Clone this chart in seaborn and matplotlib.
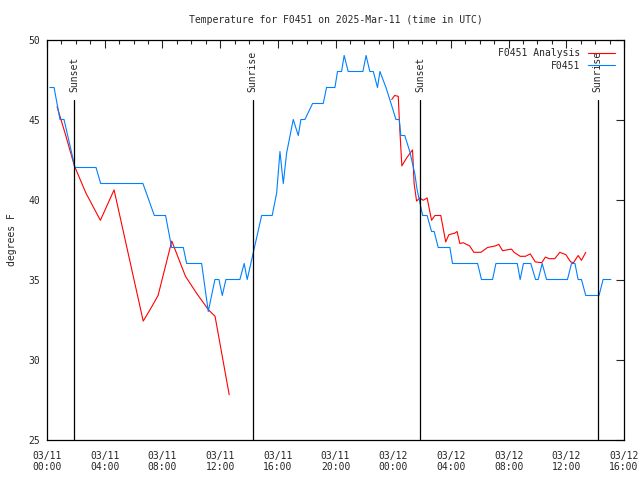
import matplotlib
matplotlib.use('Agg')
import matplotlib.pyplot as plt
import matplotlib.dates as mdates
import pandas as pd
import seaborn as sns

# hours after 2025-03-11 00:00 UTC
obs_hours = [0.2, 0.49, 0.9, 1.18, 1.94, 3.4, 3.72, 6.65, 7.44, 8.22, 8.64, 9.45, 9.68, 10.72,
             11.18, 11.64, 11.92, 12.15, 12.4, 13.37, 13.67, 13.88, 14.88, 15.61, 15.92, 16.15,
             16.38, 16.61, 17.07, 17.42, 17.6, 17.88, 18.41, 19.15, 19.38, 19.96, 20.14, 20.42,
             20.6, 20.88, 21.9, 22.12, 22.38, 22.62, 22.91, 23.08, 23.5, 23.85, 24.19, 24.42,
             24.53, 24.8, 25.15, 25.5, 25.66, 26.04, 26.35, 26.66, 26.84, 27.12, 27.93, 28.11,
             29.85, 30.12, 30.89, 31.12, 32.6, 32.8, 33.03, 33.54, 33.87, 34.05, 34.33, 34.63,
             36.08, 36.36, 36.6, 36.82, 37.05, 37.35, 38.27, 38.55, 39.09]
obs_temp = [47, 47, 45, 45, 42, 42, 41, 41, 39, 39, 37, 37, 36, 36,
            33, 35, 35, 34, 35, 35, 36, 35, 39, 39, 40.4, 43,
            41, 42.9, 45, 44, 45, 45, 46, 46, 47, 47, 48, 48,
            49, 48, 48, 49, 48, 48, 47, 48, 47, 46, 45, 45,
            44, 44, 43, 41.6, 40.6, 39, 39, 38, 38, 37, 37, 36,
            36, 35, 35, 36, 36, 35, 36, 36, 35, 35, 36, 35,
            35, 36, 36, 35, 35, 34, 34, 35, 35]

ana_hours_1 = [0.7, 1.3, 1.9, 2.7, 3.7, 4.65, 6.67, 7.2, 7.7, 8.65, 9.6, 10.4, 11.2, 11.65, 12.63]
ana_temp_1 = [45.8, 44.0, 42.1, 40.4, 38.7, 40.6, 32.4, 33.2, 34.0, 37.4, 35.2, 34.1, 33.1, 32.7, 27.8]
ana_hours_2 = [23.9, 24.1, 24.35, 24.45, 24.6, 24.93, 25.34, 25.45, 25.62, 25.85, 26.08, 26.35,
               26.66, 26.89, 27.3, 27.64, 27.86, 28.27, 28.43, 28.62, 28.85, 29.3, 29.59, 30.08,
               30.54, 31.09, 31.32, 31.58, 32.2, 32.38, 32.8, 33.17, 33.5, 33.85, 34.3, 34.55,
               34.82, 35.2, 35.55, 35.97, 36.3, 36.5, 36.82, 37.05, 37.35]
ana_temp_2 = [46.25, 46.5, 46.45, 44.5, 42.1, 42.6, 43.1, 41.0, 39.9, 40.1, 39.95, 40.1,
              38.7, 39.0, 39.0, 37.35, 37.8, 37.9, 38.0, 37.25, 37.3, 37.1, 36.7, 36.7,
              37.0, 37.1, 37.2, 36.8, 36.9, 36.7, 36.45, 36.45, 36.6, 36.1, 36.05, 36.4,
              36.3, 36.3, 36.7, 36.55, 36.1, 36.05, 36.5, 36.2, 36.7]

sun_hours = [1.9, 14.27, 25.85, 38.18]
sun_labels = ['Sunset', 'Sunrise', 'Sunset', 'Sunrise']

start = pd.Timestamp('2025-03-11 00:00')


def to_time(hours):
    return start + pd.to_timedelta(hours, unit='h')


obs = pd.DataFrame({'time': to_time(obs_hours), 'temp': obs_temp})
ana = pd.concat([
    pd.DataFrame({'time': to_time(ana_hours_1), 'temp': ana_temp_1, 'seg': 1}),
    pd.DataFrame({'time': to_time(ana_hours_2), 'temp': ana_temp_2, 'seg': 2}),
])

sns.set_style('white')
plt.rcParams['font.family'] = ['DejaVu Sans Mono']
plt.rcParams['font.size'] = 7

fig = plt.figure(figsize=(6.4, 4.8), dpi=100)
ax = fig.add_axes([47 / 640, 1 - 439.5 / 480, 577 / 640, 400 / 480])

sns.lineplot(data=ana, x='time', y='temp', units='seg', estimator=None, color='#ff0000',
             linewidth=0.8, ax=ax, label='F0451 Analysis')
sns.lineplot(data=obs, x='time', y='temp', color='#0080ff', linewidth=0.8, ax=ax, label='F0451')

for h, lab in zip(sun_hours, sun_labels):
    t = to_time(h)
    ax.plot([t, t], [25, 46.25], color='black', linewidth=0.9)
    ax.text(t, 46.7, lab, rotation=90, ha='center', va='bottom', fontsize=7)

ax.set_xlim(start, to_time(40))
ax.set_ylim(25, 50)
ax.set_yticks([25, 30, 35, 40, 45, 50])
ax.xaxis.set_major_locator(mdates.HourLocator(byhour=[0, 4, 8, 12, 16, 20]))
ax.xaxis.set_minor_locator(mdates.HourLocator())
ax.xaxis.set_major_formatter(mdates.DateFormatter('%m/%d\n%H:%M'))
ax.tick_params(which='major', direction='in', length=6, width=0.8, top=True, right=True,
               labelsize=7, pad=5)
ax.tick_params(axis='x', which='major', pad=8)
ax.tick_params(which='minor', direction='in', length=3, width=0.8, top=True)
for s in ax.spines.values():
    s.set_color('black')
    s.set_linewidth(0.9)

ax.set_xlabel('')
ax.set_ylabel('degrees F', fontsize=7, labelpad=8)
ax.set_title('Temperature for F0451 on 2025-Mar-11 (time in UTC)', fontsize=7, pad=12)

# one legend entry per series
handles, labels = ax.get_legend_handles_labels()
seen = {}
for h, l in zip(handles, labels):
    seen.setdefault(l, h)
ax.legend(list(seen.values()), list(seen.keys()), loc='upper right', frameon=False,
          markerfirst=False, fontsize=7, handlelength=2.8, borderaxespad=0.5,
          labelspacing=0.25, handletextpad=0.8)

plt.savefig('out.png', dpi=100)
